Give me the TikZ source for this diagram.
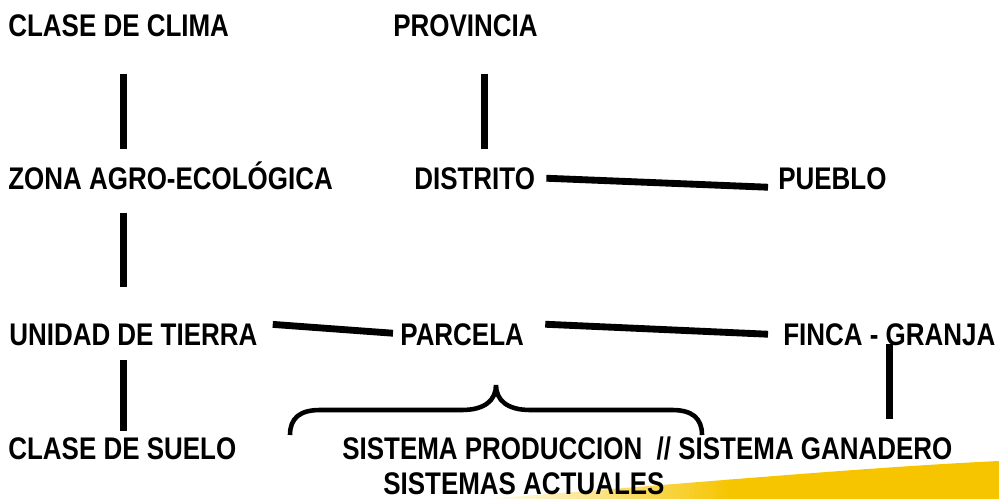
\documentclass[tikz,border=0pt]{standalone}
\usepackage{fontspec}
\setmainfont{Liberation Sans}[FakeStretch=0.83]
\usetikzlibrary{calc}
\definecolor{swoosh}{RGB}{246,197,0}
\begin{document}
\begin{tikzpicture}[x=0.02cm, y=-0.02cm,
    txt/.style={anchor=base west, inner sep=0pt, font=\fontsize{17.8}{21.5}\selectfont\bfseries},
    link/.style={line width=3.9pt}]
        \useasboundingbox (0,0) rectangle (999,499);
        % yellow band, bottom right
        \begin{scope}
            \clip (480,499) .. controls (650,487) and (850,468) .. (999,461) -- (999,499) -- cycle;
            \shade [left color=white, right color=swoosh] (480,455) rectangle (730,499);
            \fill [swoosh] (729,455) rectangle (999,499);
        \end{scope}
        \node [txt] (clima) at (8,37) {CLASE DE CLIMA};
        \node [txt] (prov) at (393,37) {PROVINCIA};
        \node [txt] (zona) at (8,190) {ZONA AGRO-ECOLÓGICA};
        \node [txt] (distrito) at (414,190) {DISTRITO};
        \node [txt] (pueblo) at (778,190) {PUEBLO};
        \node [txt] (unidad) at (9,345) {UNIDAD DE TIERRA};
        \node [txt] (parcela) at (400,345) {PARCELA};
        \node [txt] (finca) at (783,345) {FINCA - GRANJA};
        \node [txt] (suelo) at (8,459) {CLASE DE SUELO};
        \node [txt] (sistema) at (342,459) {SISTEMA PRODUCCION\ \ // SISTEMA GANADERO};
        \node [txt] (actuales) at (383,494) {SISTEMAS ACTUALES};
        % vertical links
        \draw[link] ($(clima.south)+(5,36)$) -- ++(0,75);
        \draw[link] ($(zona.south -| clima.south)+(5,22)$) -- ++(0,74);
        \draw[link] ($(unidad.south -| clima.south)+(5,14)$) -- ++(0,71);
        \draw[link] ($(prov.south)+(19,36)$) -- ++(0,75);
        \draw[link] ($(finca.south)+(0,-2)$) -- ++(0,75);
        % slanted links
        \draw[link] ($(distrito.east)+(11,-1)$) -- ($(pueblo.west)+(-10,8)$);
        \draw[link] ($(unidad.east)+(15,-10)$) -- ($(parcela.west)+(-7,-1)$);
        \draw[link] ($(parcela.east)+(21,-10)$) -- ($(finca.west)+(-15,0)$);
        % brace under PARCELA
        \draw[line width=2.6pt] (290,435) .. controls (290,418) and (300,410) .. (320,410)
            -- (462,410) .. controls (485,410) and (496,400) .. (496,385)
            .. controls (496,400) and (507,410) .. (530,410)
            -- (672,410) .. controls (692,410) and (702,418) .. (702,435);
    \end{tikzpicture}
\end{document}
